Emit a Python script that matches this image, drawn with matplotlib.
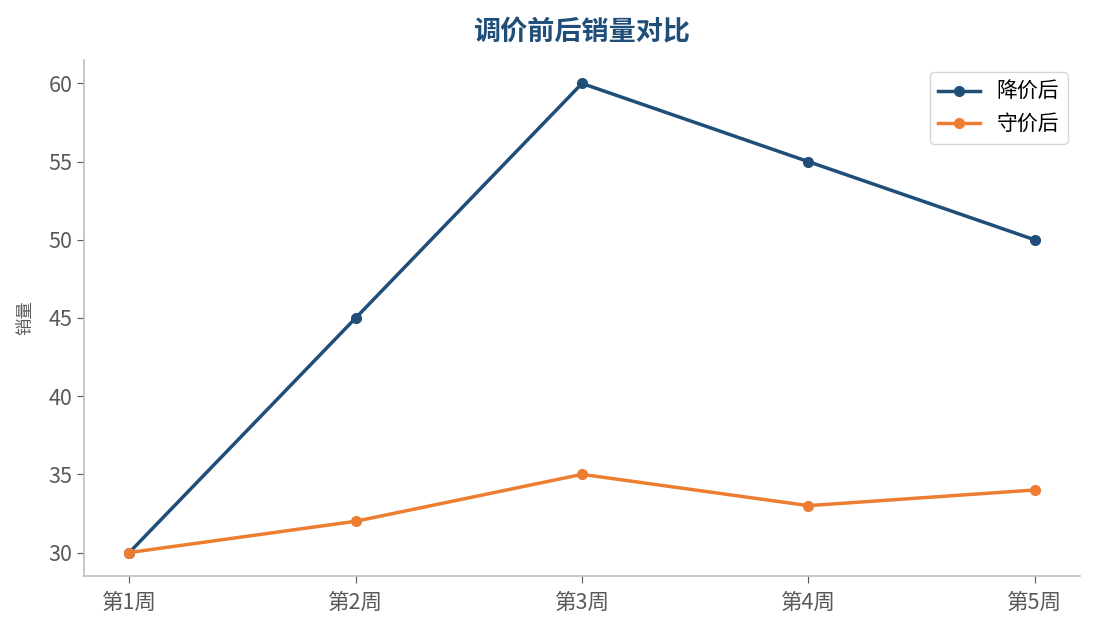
import matplotlib
matplotlib.use("Agg")
from matplotlib import pyplot as plt

plt.rcParams['font.family'] = ['Noto Sans CJK SC', 'DejaVu Sans']

weeks = ["第1周", "第2周", "第3周", "第4周", "第5周"]
after_cut = [30, 45, 60, 55, 50]
after_hold = [30, 32, 35, 33, 34]

blue = "#1f4e79"
orange = "#ed7d31"
gray = "#bfbfbf"
text_gray = "#595959"

fig = plt.figure(figsize=(10.95, 6.29), dpi=100)
ax = fig.add_axes([84 / 1095, 53 / 629, 996 / 1095, 516 / 629])

x = range(len(weeks))
ax.plot(x, after_cut, color=blue, linewidth=2.5, marker="o", markersize=7, label="降价后")
ax.plot(x, after_hold, color=orange, linewidth=2.5, marker="o", markersize=7, label="守价后")

ax.set_xticks(list(x))
ax.set_xticklabels(weeks)
ax.set_yticks([30, 35, 40, 45, 50, 55, 60])
ax.tick_params(colors=text_gray, labelsize=15.5, length=5)
ax.tick_params(axis="x", pad=6.5)
for t in ax.get_xticklabels() + ax.get_yticklabels():
    t.set_color(text_gray)

for side in ("top", "right"):
    ax.spines[side].set_visible(False)
for side in ("left", "bottom"):
    ax.spines[side].set_color(gray)
    ax.spines[side].set_linewidth(1.2)

ax.set_ylabel("销量", color=text_gray, fontsize=12.5, labelpad=10)
ax.set_title("调价前后销量对比", color=blue, fontsize=19.5, fontweight="bold", pad=14)

ax.legend(loc="upper right", fontsize=15, frameon=True, edgecolor="#cccccc",
          fancybox=True, borderaxespad=0.6)

fig.savefig("out.png", dpi=100)
